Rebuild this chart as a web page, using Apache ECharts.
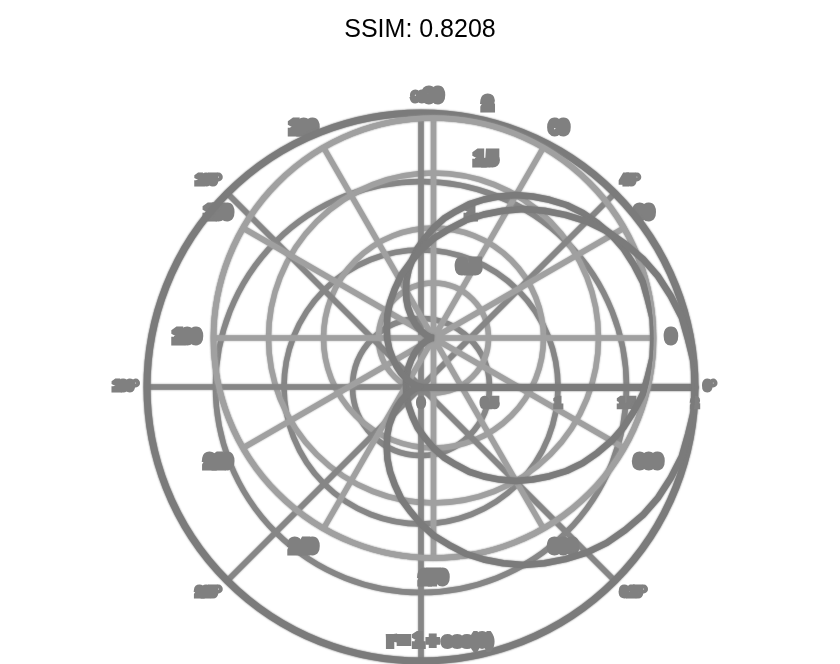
<!DOCTYPE html>
<html><head><meta charset="utf-8">
<script src="https://cdn.jsdelivr.net/npm/echarts@6/dist/echarts.min.js"></script>
<style>html,body{margin:0;padding:0;background:#fff}#c{width:840px;height:664px}</style>
</head><body><div id="c"></div>
<script>
const chartTitle = 'SSIM: 0.8208';
const curveLabel = 'r = 1 + cos(θ)';
const thetaDeg = [0,5,10,15,20,25,30,35,40,45,50,55,60,65,70,75,80,85,90,95,100,105,110,115,120,125,130,135,140,145,150,155,160,165,170,175,180,
  185,190,195,200,205,210,215,220,225,230,235,240,245,250,255,260,265,270,275,280,285,290,295,300,305,310,315,320,325,330,335,340,345,350,355,360];
const rValues = [2.00,2.00,1.98,1.97,1.94,1.91,1.87,1.82,1.77,1.71,1.64,1.57,1.50,1.42,1.34,1.26,1.17,1.09,1.00,0.91,0.83,0.74,0.66,0.58,0.50,0.43,0.36,0.29,0.23,0.18,0.13,0.09,0.06,0.03,0.02,0.00,0.00,
  0.00,0.02,0.03,0.06,0.09,0.13,0.18,0.23,0.29,0.36,0.43,0.50,0.58,0.66,0.74,0.83,0.91,1.00,1.09,1.17,1.26,1.34,1.42,1.50,1.57,1.64,1.71,1.77,1.82,1.87,1.91,1.94,1.97,1.98,2.00,2.00];
const angleLabelsA = ['0°','45°','90°','135°','180°','225°','270°','315°','0°'];
const angleLabelsB = ['0','30','60','90','120','150','180','210','240','270','300','330','0'];
const radialLabels = ['0','0.5','1','1.5','2'];
const rMax = 2, rStep = 0.5;

const cardioid = thetaDeg.map((t, i) => [rValues[i], t]);

const DARK = '#7b7b7b', MID = '#868686', LIGHT = '#a0a0a0', BLOB = '#808080';
const FONT = 'Liberation Sans, Arial, sans-serif';
const soft = (color, width) => ({color: color, width: width, shadowBlur: 2, shadowColor: color});
const blob = (size, bw) => ({color: BLOB, fontSize: size, fontWeight: 'bold', fontFamily: FONT,
  textBorderColor: BLOB, textBorderWidth: bw});

const chart = echarts.init(document.getElementById('c'), null, {renderer: 'canvas'});
chart.setOption({
  animation: false,
  backgroundColor: '#fff',
  title: [
    {text: chartTitle, left: 'center', top: 13,
     textStyle: {fontSize: 25, fontWeight: 'normal', color: '#000', fontFamily: FONT}},
    {text: curveLabel, left: 435, top: 628, textAlign: 'center', textStyle: blob(17, 6)}
  ],
  polar: [
    {center: [421, 387], radius: 274},
    {center: [433.5, 338], radius: 220},
    {center: [435, 328], radius: 220}
  ],
  angleAxis: [
    {polarIndex: 0, type: 'value', min: 0, max: 360, interval: 45, startAngle: 0, clockwise: false,
     axisLine: {lineStyle: soft(DARK, 7)}, axisTick: {show: false},
     splitLine: {lineStyle: soft(MID, 5.5)},
     axisLabel: Object.assign({margin: 9, formatter: v => angleLabelsA[Math.round(v / 45)]}, blob(12, 5))},
    {polarIndex: 1, type: 'value', min: 0, max: 360, interval: 30, startAngle: 0, clockwise: false,
     axisLine: {lineStyle: soft(LIGHT, 5.5)}, axisTick: {show: false},
     splitLine: {lineStyle: soft(LIGHT, 5.5)},
     axisLabel: Object.assign({margin: 13, formatter: v => angleLabelsB[Math.round(v / 30)]}, blob(16, 7))},
    {polarIndex: 2, type: 'value', min: 0, max: 360, startAngle: 81, clockwise: false, show: false}
  ],
  radiusAxis: [
    {polarIndex: 0, type: 'value', min: 0, max: rMax, interval: rStep,
     axisLine: {lineStyle: soft(DARK, 7)}, axisTick: {show: false},
     splitLine: {lineStyle: soft(MID, 5.5)},
     axisLabel: Object.assign({margin: -11, align: 'center', verticalAlign: 'top',
       formatter: v => radialLabels[Math.round(v / rStep)]}, blob(12, 4.5))},
    {polarIndex: 1, type: 'value', min: 0, max: rMax, interval: rStep,
     axisLine: {show: false}, axisTick: {show: false}, axisLabel: {show: false},
     splitLine: {lineStyle: soft(LIGHT, 5.5)}},
    {polarIndex: 2, type: 'value', min: 0, max: rMax, interval: rStep,
     axisLine: {show: false}, axisTick: {show: false}, splitLine: {show: false},
     axisLabel: Object.assign({margin: -14, align: 'left', verticalAlign: 'bottom', showMinLabel: false,
       formatter: v => radialLabels[Math.round(v / rStep)]}, blob(16, 7))}
  ],
  series: [
    {type: 'line', coordinateSystem: 'polar', polarIndex: 1, data: cardioid,
     symbol: 'none', lineStyle: soft(DARK, 6.5)},
    {type: 'line', coordinateSystem: 'polar', polarIndex: 0, data: cardioid,
     symbol: 'none', lineStyle: soft(DARK, 6.5)}
  ]
});
</script></body></html>
